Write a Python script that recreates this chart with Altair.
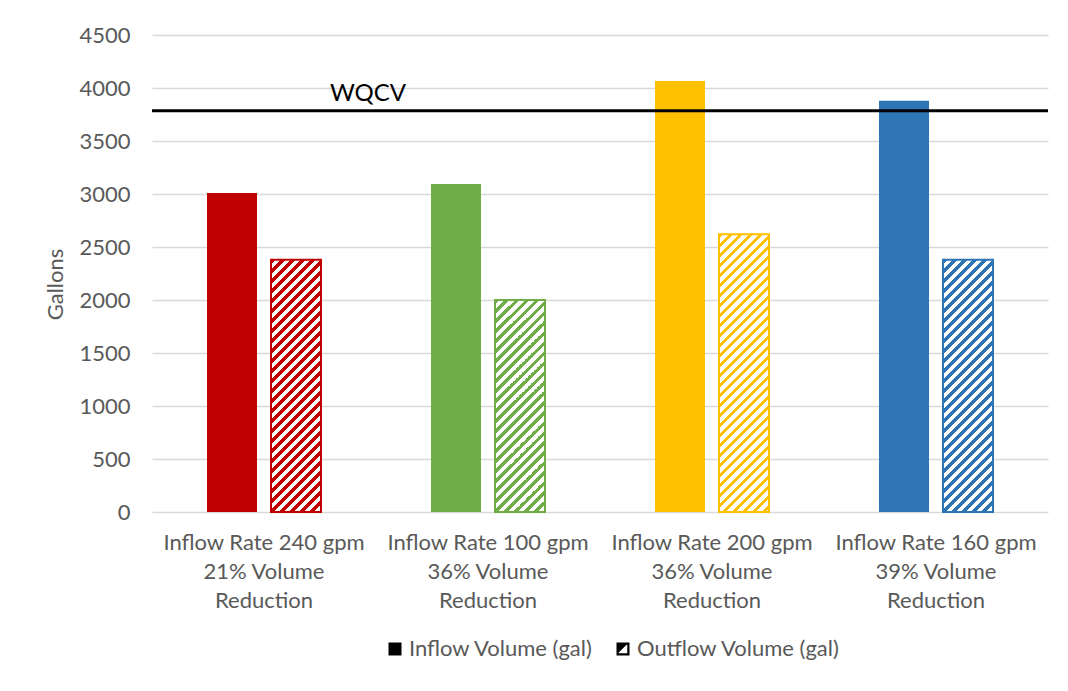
import altair as alt
import pandas as pd

# ---------------- data ----------------
categories = [
    "Inflow Rate 240 gpm|21% Volume|Reduction",
    "Inflow Rate 100 gpm|36% Volume|Reduction",
    "Inflow Rate 200 gpm|36% Volume|Reduction",
    "Inflow Rate 160 gpm|39% Volume|Reduction",
]
inflow = [3010, 3095, 4065, 3880]
outflow = [2380, 2000, 2620, 2380]
colors = ["#C00000", "#70AD47", "#FFC000", "#2E75B6"]
series = ["Inflow Volume (gal)", "Outflow Volume (gal)"]
wqcv_label = ["WQCV"]
wqcv_value = [3785]
y_ticks = [0, 500, 1000, 1500, 2000, 2500, 3000, 3500, 4000, 4500]

# ---------------- style ----------------
W, H = 896, 477
Y_MAX = 4500
BAR_W = 50
FONT = "Lato"
GRAY = "#595959"
GRID = "#D9D9D9"
FS = 22

rows = []
for c, i, o in zip(categories, inflow, outflow):
    rows.append({"category": c, "series": series[0], "value": i})
    rows.append({"category": c, "series": series[1], "value": o})
df = pd.DataFrame(rows)


def hatch(color, h, w=BAR_W, period=10.0, frac=0.45):
    """Linear gradient with hard stops that draws 45-degree diagonal stripes."""
    k = (w + h) / (w * w + h * h)
    n = (w + h) / period
    stops = []
    i = 0
    while i < n:
        a = min(i / n, 1.0)
        b = min((i + frac) / n, 1.0)
        c = min((i + 1) / n, 1.0)
        stops += [
            {"offset": a, "color": color},
            {"offset": b, "color": color},
            {"offset": b, "color": "#FFFFFF"},
            {"offset": c, "color": "#FFFFFF"},
        ]
        i += 1
    return {"gradient": "linear", "x1": 0, "y1": 0, "x2": w * k, "y2": h * k, "stops": stops}


HATCH_PATH = (
    "M-1,-1H1V-0.66H-1Z M-1,0.66H1V1H-1Z M-1,-1H-0.66V1H-1Z M0.66,-1H1V1H0.66Z "
    "M-1,-1L0.9,-1L-1,0.9Z M1,1L0.4,1L1,0.4Z"
)

x_enc = alt.X(
    "category:N",
    sort=categories,
    title=None,
    scale=alt.Scale(paddingInner=0, paddingOuter=0),
    axis=alt.Axis(
        labelExpr="split(datum.label, '|')",
        labelAngle=0,
        labelFont=FONT,
        labelFontSize=FS,
        labelColor=GRAY,
        labelLineHeight=29,
        labelPadding=20,
        labelLimit=400,
        ticks=False,
        domain=False,
        grid=False,
    ),
)
xoff_enc = alt.XOffset(
    "series:N",
    sort=series,
    scale=alt.Scale(paddingInner=0.21875, paddingOuter=0.859375),
)
y_enc = alt.Y(
    "value:Q",
    title="Gallons",
    scale=alt.Scale(domain=[0, Y_MAX], nice=False),
    axis=alt.Axis(
        values=y_ticks,
        format="d",
        grid=True,
        gridColor=GRID,
        gridWidth=1.3,
        ticks=False,
        domain=False,
        labelFont=FONT,
        labelFontSize=FS,
        labelColor=GRAY,
        labelPadding=22,
        titleFont=FONT,
        titleFontSize=FS,
        titleColor=GRAY,
        titleFontWeight="normal",
        titleAngle=270,
        titleAlign="center",
        titleBaseline="middle",
        titleX=-97,
        titleY=249,
    ),
)

base = alt.Chart(df)

inflow_layer = (
    base.transform_filter(alt.datum.series == series[0])
    .mark_bar()
    .encode(
        x=x_enc,
        xOffset=xoff_enc,
        y=y_enc,
        fill=alt.Fill("category:N", scale=alt.Scale(domain=categories, range=colors), legend=None),
    )
)

outflow_layers = []
for c, o, col in zip(categories, outflow, colors):
    h = o / Y_MAX * H
    outflow_layers.append(
        base.transform_filter((alt.datum.series == series[1]) & (alt.datum.category == c))
        .mark_bar(fill=hatch(col, h), stroke=col, strokeWidth=2)
        .encode(x=x_enc, xOffset=xoff_enc, y=y_enc)
    )

wq_df = pd.DataFrame({"label": wqcv_label, "value": wqcv_value})
rule_layer = alt.Chart(wq_df).mark_rule(color="black", strokeWidth=3).encode(y=y_enc)
text_layer = (
    alt.Chart(wq_df)
    .mark_text(align="left", baseline="alphabetic", dy=-10, font=FONT, fontSize=24, color="black")
    .encode(x=alt.value(178), y=y_enc, text="label:N")
)

leg_df = pd.DataFrame({"legend": series})
legend_layer = (
    alt.Chart(leg_df)
    .transform_filter("false")
    .mark_point(filled=True, color="black", opacity=1)
    .encode(
        shape=alt.Shape(
            "legend:N",
            title=None,
            scale=alt.Scale(domain=series, range=["square", HATCH_PATH]),
            legend=alt.Legend(
                orient="none",
                legendX=232,
                legendY=603,
                direction="horizontal",
                symbolSize=169,
                symbolFillColor="black",
                symbolStrokeWidth=0,
                symbolOpacity=1,
                labelFont=FONT,
                labelFontSize=FS,
                labelColor=GRAY,
                labelOffset=3,
                labelLimit=400,
                columnPadding=18,
                padding=0,
            ),
        )
    )
)

chart = (
    alt.layer(inflow_layer, *outflow_layers, rule_layer, text_layer, legend_layer)
    .properties(
        width=W,
        height=H,
        autosize=alt.AutoSizeParams(type="none"),
        padding={"left": 144, "top": 27, "right": 12, "bottom": 160},
        background="white",
    )
    .configure_view(strokeWidth=0)
)

chart.save("out.html", embed_options={"renderer": "svg", "actions": False})
